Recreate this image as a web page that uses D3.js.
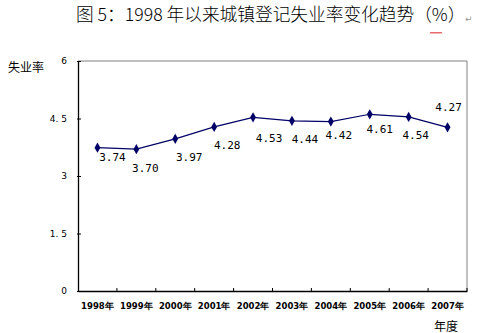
<!DOCTYPE html>
<html><head><meta charset="utf-8">
<script src="https://cdn.jsdelivr.net/npm/d3@7"></script>
<style>body{margin:0;background:#fff}svg{display:block}</style>
</head><body>
<svg id="c" width="496" height="333"></svg>
<script>
const years = ["1998年","1999年","2000年","2001年","2002年","2003年","2004年","2005年","2006年","2007年"];
const rates = [3.74, 3.70, 3.97, 4.28, 4.53, 4.44, 4.42, 4.61, 4.54, 4.27];
const rateLabels = ["3.74","3.70","3.97","4.28","4.53","4.44","4.42","4.61","4.54","4.27"];
const yTicks = [0, 1.5, 3, 4.5, 6];
const yTickLabels = ["0","1. 5","3","4. 5","6"];
// label offsets relative to point (dx centre, dy baseline)
const labelOffsets = [[15,13],[9,23],[14,22],[13,22],[16,25],[13,22],[8,17],[10,19],[7,22],[1,-16]];

const svg = d3.select("#c");
const L=78, R=467, T=61, B=291;
const x = d3.scaleBand().domain(years).range([L,R]);
const y = d3.scaleLinear().domain([0,6]).range([B,T]);

// title
svg.append("text").attr("x",76).attr("y",21)
  .attr("font-family","'Noto Sans CJK SC', sans-serif").attr("font-size",17.7).attr("font-weight",300).attr("fill","#000")
  .text("图 5：1998 年以来城镇登记失业率变化趋势（%）");
svg.append("text").attr("x",465).attr("y",22).attr("font-family","'DejaVu Sans', sans-serif")
  .attr("font-size",9).attr("fill","#999").text("↵");
// wavy underline
let wp="M430,33.5"; for(let i=0;i<6;i++){wp+=` l1,-1.5 l1,1.5`;}
svg.append("path").attr("d",wp).attr("fill","none").attr("stroke","#e03030").attr("stroke-width",0.8);

// frame top/right grey
svg.append("path").attr("d",`M${L},${T}H${R}V${B}`).attr("fill","none").attr("stroke","#808080").attr("stroke-width",1);

// y axis
const ya = svg.append("g").attr("transform",`translate(${L},0)`)
  .call(d3.axisLeft(y).tickValues(yTicks).tickSize(0).tickFormat((d,i)=>yTickLabels[i]));
ya.select(".domain").attr("stroke","#000").attr("stroke-width",1.3);
ya.selectAll("text").attr("x",-11).attr("font-family","'DejaVu Sans', sans-serif").attr("font-size",9).attr("fill","#000");
ya.selectAll(".tick").append("line").attr("x1",-1).attr("x2",3).attr("stroke","#000");

// x axis
const xa = svg.append("g").attr("transform",`translate(0,${B})`)
  .call(d3.axisBottom(x).tickSize(0));
xa.select(".domain").attr("stroke","#000").attr("stroke-width",1.3);
xa.selectAll("text").attr("y",12).attr("dy","0.71em").attr("font-family","'DejaVu Sans', sans-serif")
  .attr("font-size",8.5).attr("font-weight","bold").attr("fill","#000");
svg.append("g").selectAll("line").data(years).join("line")
  .attr("x1",d=>x(d)+x.bandwidth()).attr("x2",d=>x(d)+x.bandwidth())
  .attr("y1",B).attr("y2",B-3).attr("stroke","#000");

// axis titles
svg.append("text").attr("x",8).attr("y",72).attr("font-family","'Noto Sans CJK SC', sans-serif")
  .attr("font-size",12).text("失业率");
svg.append("text").attr("x",434).attr("y",331).attr("font-family","'Noto Sans CJK SC', sans-serif")
  .attr("font-size",12).text("年度");

// line
const cx = d=>x(d)+x.bandwidth()/2;
const line = d3.line().x((d,i)=>cx(years[i])).y(d=>y(d));
svg.append("path").datum(rates).attr("d",line).attr("fill","none").attr("stroke","#000066").attr("stroke-width",1.2);
svg.append("g").selectAll("path").data(rates).join("path")
  .attr("d",d3.symbol(d3.symbolDiamond,30)())
  .attr("transform",(d,i)=>`translate(${cx(years[i])},${y(d)})`).attr("fill","#000066");
svg.append("g").selectAll("text").data(rates).join("text")
  .attr("x",(d,i)=>cx(years[i])+labelOffsets[i][0]).attr("y",(d,i)=>y(d)+labelOffsets[i][1])
  .attr("text-anchor","middle").attr("font-family","'DejaVu Sans Mono', monospace").attr("font-size",11)
  .attr("fill","#000").text((d,i)=>rateLabels[i]);
</script>
</body></html>
